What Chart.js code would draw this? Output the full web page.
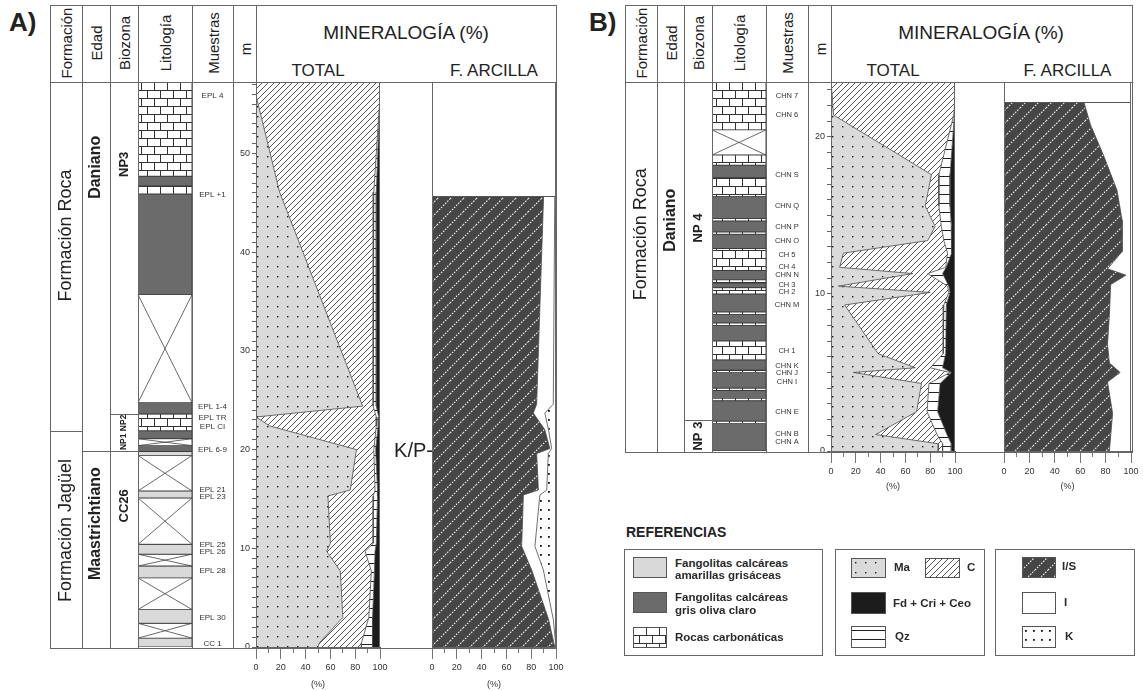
<!DOCTYPE html>
<html lang="es">
<head>
<meta charset="utf-8">
<title>Mineralogía total y de la fracción arcilla</title>
<script src="https://cdn.jsdelivr.net/npm/chart.js@4.4.1/dist/chart.umd.min.js"></script>
<style>
html, body { margin: 0; padding: 0; background: #fff; }
body { width: 1143px; height: 691px; position: relative; overflow: hidden;
       font-family: "Liberation Sans", Arial, Helvetica, sans-serif; color: #222; }
.l { position: absolute; background: #666; z-index: 5; }
.t { position: absolute; white-space: nowrap; line-height: 1; }
.c { position: absolute; white-space: nowrap; line-height: 1; transform: translate(-50%, -50%); }
.r { position: absolute; white-space: nowrap; line-height: 1; transform: translate(-50%, -50%) rotate(-90deg); }
.box { position: absolute; border: 1px solid #666; box-sizing: border-box; }
canvas { position: absolute; }
</style>
</head>
<body>
<script>
// ======================= DATA =======================

// --- Section A: lithology (m) ---
const litBaseA = [47.7, 46.7, 45.9, 35.7, 24.75, 23.6, 21.9, 21.1, 20.4, 19.8, 19.4, 15.8, 15.1, 10.4, 9.4, 8.2, 7.0, 3.8, 2.4, 0.9, 0];
const litTopA  = [57.24, 47.7, 46.7, 45.9, 35.7, 24.75, 23.6, 21.9, 21.1, 20.4, 19.8, 19.4, 15.8, 15.1, 10.4, 9.4, 8.2, 7.0, 3.8, 2.4, 0.9];
const litTypeA = ['carb', 'dark', 'carb', 'dark', 'cov', 'dark', 'carb', 'dark', 'cov', 'dark', 'light', 'cov', 'light', 'cov', 'light', 'cov', 'light', 'cov', 'light', 'cov', 'light'];

// --- Section A: samples ---
const sampleNamesA = ['EPL 4', 'EPL +1', 'EPL 1-4', 'EPL TR', 'EPL CI', 'EPL 6-9', 'EPL 21', 'EPL 23', 'EPL 25', 'EPL 26', 'EPL 28', 'EPL 30', 'CC 1'];
const sampleDepthA = [55.8, 45.8, 24.3, 23.2, 22.3, 20.0, 15.9, 15.2, 10.4, 9.6, 7.7, 3.0, 0.3];

// --- Section A: units ---
const formationA = ['Formación Roca', 'Formación Jagüel'];
const formationBaseA = [21.9, 0];
const formationLabelA = [41.7, 11.8];
const stageA = ['Daniano', 'Maastrichtiano'];
const stageBaseA = [19.85, 0];
const stageLabelA = [48.6, 12.5];
const zoneA = ['NP3', 'NP1 NP2', 'CC26'];
const zoneBaseA = [23.65, 19.85, 0];
const zoneLabelA = [48.9, 21.75, 14.3];

// --- Section A: total mineralogy (%) ---
const depthTotalA = [57.24, 55.9, 46.1, 24.4, 23.3, 22.4, 20.0, 15.9, 15.3, 10.5, 9.7, 7.7, 3.0, 0.4, 0];
const maTotalA    = [0, 0, 19, 86, 0, 11, 81, 76, 58, 60, 57, 68, 70, 51, 50];
const cTotalA     = [100, 100, 76, 8.5, 97, 86, 14, 20, 36.5, 34.5, 31, 25, 21, 34, 35];
const qzTotalA    = [0, 0, 2, 2.5, 2, 1.5, 1.5, 2, 3.5, 2.5, 8, 2.5, 3, 9, 9];
const fdTotalA    = [0, 0, 3, 3, 1, 1.5, 3.5, 2, 2, 3, 4, 4.5, 6, 6, 6];

// --- Section A: clay fraction (%) ---
const depthClayA = [45.7, 24.6, 23.7, 22.0, 20.1, 19.6, 15.9, 15.4, 10.2, 7.8, 2.8, 0];
const isClayA    = [90, 84.4, 81.7, 91, 95, 84.4, 85.8, 73.7, 72.3, 80.4, 94, 99];
const iClayA     = [9, 13.4, 9.3, 3, 1.5, 9.4, 6.7, 13.3, 10.7, 9.4, 3.8, 1];
const kClayA     = [1, 2.2, 9, 6, 3.5, 6.2, 7.5, 13, 17, 10.2, 2.2, 0];
const kpLabel = 'K/P';
const kpDepth = 19.85;

// --- Section B: lithology (m) ---
const litBaseB = [0, 1.75, 1.9, 3.2, 3.35, 3.85, 4.0, 5.0, 5.15, 5.8, 7.0, 8.0, 8.15, 8.7, 8.85, 10.0, 10.4, 10.7, 10.9, 11.5, 12.9, 13.8, 13.95, 14.65, 14.8, 16.2, 17.4, 18.2, 18.85, 20.45];
const litTopB  = [1.75, 1.9, 3.2, 3.35, 3.85, 4.0, 5.0, 5.15, 5.8, 7.0, 8.0, 8.15, 8.7, 8.85, 10.0, 10.4, 10.7, 10.9, 11.5, 12.9, 13.8, 13.95, 14.65, 14.8, 16.2, 17.4, 18.2, 18.85, 20.45, 23.5];
const litTypeB = ['dark', 'carb', 'dark', 'carb', 'dark', 'carb', 'dark', 'carb', 'dark', 'carb', 'dark', 'carb', 'dark', 'carb', 'dark', 'carb', 'dark', 'carb', 'dark', 'carb', 'dark', 'carb', 'dark', 'carb', 'dark', 'carb', 'dark', 'carb', 'cov', 'carb'];

// --- Section B: samples ---
const sampleNamesB = ['CHN 7', 'CHN 6', 'CHN S', 'CHN Q', 'CHN P', 'CHN O', 'CH 5', 'CH 4', 'CHN N', 'CH 3', 'CH 2', 'CHN M', 'CH 1', 'CHN K', 'CHN J', 'CHN I', 'CHN E', 'CHN B', 'CHN A'];
const sampleDepthB = [22.6, 21.4, 17.6, 15.6, 14.3, 13.4, 12.5, 11.7, 11.2, 10.6, 10.1, 9.3, 6.4, 5.4, 5.0, 4.4, 2.5, 1.1, 0.6];

// --- Section B: units ---
const formationB = ['Formación Roca'];
const formationBaseB = [0];
const formationLabelB = [13.8];
const stageB = ['Daniano'];
const stageBaseB = [0];
const stageLabelB = [14.7];
const zoneB = ['NP 4', 'NP 3'];
const zoneBaseB = [1.97, 0];
const zoneLabelB = [14.2, 0.95];

// --- Section B: total mineralogy (%) ---
const depthTotalB = [23.5, 22.6, 21.4, 17.6, 15.6, 14.3, 13.4, 12.6, 11.7, 11.3, 10.5, 10.1, 9.3, 6.2, 5.3, 5.0, 4.3, 2.5, 1.05, 0.46, 0];
const maTotalB    = [0, 1, 2, 81, 76, 84, 78, 10, 7, 66, 6, 80, 11, 38, 68, 18, 73, 69, 36, 86.5, 86.5];
const cTotalB     = [100, 99, 97, 6, 11, 5, 13, 84, 85.5, 12, 88, 15, 80, 52.5, 12, 78, 6, 8.5, 49.5, 3.5, 3.5];
const qzTotalB    = [0, 0, 0.5, 9, 9, 8, 6.5, 3, 0.5, 12, 1, 1, 2, 2, 10, 1, 9, 8.5, 8, 7, 7];
const fdTotalB    = [0, 0, 0.5, 4, 4, 3, 2.5, 3, 7, 10, 5, 4, 7, 7.5, 10, 3, 12, 14, 6.5, 3, 3];

// --- Section B: clay fraction (%) ---
const depthClayB = [22.2, 20.8, 18.7, 16.6, 14.7, 12.7, 11.6, 11.2, 10.6, 8.7, 6.8, 5.6, 5.0, 4.4, 2.4, 0];
const isClayB    = [63, 68, 79, 89, 93, 93, 81.5, 96, 84, 83, 81.5, 83, 91.5, 81.5, 85.5, 83];
const iClayB     = [37, 32, 21, 11, 7, 7, 18.5, 4, 16, 17, 18.5, 17, 8.5, 18.5, 14.5, 17];

// ======================= LAYOUT =======================
const FONT = '"Liberation Sans", Arial, Helvetica, sans-serif';
Chart.defaults.font.family = FONT;
Chart.defaults.color = '#333';

const panelA = { tag: 'A)', tagX: 9, top: 5, head: 82, zero: 647, bottom: 648,
  cols: [50, 82, 110, 138, 192, 233, 256, 556], total: [256, 380], clay: [432, 556], yMax: 57.24 };
const panelB = { tag: 'B)', tagX: 589, top: 5, head: 82, zero: 451, bottom: 452,
  cols: [625, 657, 684, 712, 766, 808, 831, 1132], total: [831, 955], clay: [1004, 1131], yMax: 23.5 };

// ======================= FILL PATTERNS =======================
function makeTile(w, h, paint) {
  const c = document.createElement('canvas');
  c.width = w; c.height = h;
  paint(c.getContext('2d'), w, h);
  return c;
}
const patternCtx = document.createElement('canvas').getContext('2d');
const pattern = tile => patternCtx.createPattern(tile, 'repeat');
function diagonal(g, w, h) {
  g.beginPath();
  g.moveTo(0, h); g.lineTo(w, 0);
  g.moveTo(-1, 1); g.lineTo(1, -1);
  g.moveTo(w - 1, h + 1); g.lineTo(w + 1, h - 1);
  g.stroke();
}
const fills = {
  ma: pattern(makeTile(10, 10, (g, w, h) => {
    g.fillStyle = '#dadada'; g.fillRect(0, 0, w, h);
    g.fillStyle = '#1a1a1a'; g.fillRect(4, 4, 1.4, 1.4);
  })),
  c: pattern(makeTile(6, 6, (g, w, h) => {
    g.fillStyle = '#fff'; g.fillRect(0, 0, w, h);
    g.strokeStyle = '#2a2a2a'; g.lineWidth = 0.8; diagonal(g, w, h);
  })),
  qz: pattern(makeTile(8, 9, (g, w, h) => {
    g.fillStyle = '#fff'; g.fillRect(0, 0, w, h);
    g.fillStyle = '#222'; g.fillRect(0, 4, w, 1);
  })),
  fd: '#1c1c1c',
  is: pattern(makeTile(13, 13, (g, w, h) => {
    g.fillStyle = '#464646'; g.fillRect(0, 0, w, h);
    g.strokeStyle = '#f2f2f2'; g.lineWidth = 1.1; g.setLineDash([1.6, 1.3]); diagonal(g, w, h);
  })),
  i: '#ffffff',
  k: pattern(makeTile(8, 9, (g, w, h) => {
    g.fillStyle = '#fff'; g.fillRect(0, 0, w, h);
    g.fillStyle = '#111'; g.fillRect(3, 4, 1.8, 1.8);
  })),
  carb: pattern(makeTile(26, 16, (g, w, h) => {
    g.fillStyle = '#fff'; g.fillRect(0, 0, w, h);
    g.strokeStyle = '#333'; g.lineWidth = 1;
    g.beginPath();
    g.moveTo(0, 0.5); g.lineTo(w, 0.5);
    g.moveTo(0, 8.5); g.lineTo(w, 8.5);
    g.moveTo(0.5, 0); g.lineTo(0.5, 8);
    g.moveTo(13.5, 0); g.lineTo(13.5, 8);
    g.moveTo(6.5, 8); g.lineTo(6.5, 16);
    g.moveTo(19.5, 8); g.lineTo(19.5, 16);
    g.stroke();
  })),
  dark: '#6b6b6b',
  light: '#d9d9d9',
  cov: '#ffffff'
};

// ======================= HTML FRAME & TEXT =======================
function el(cls, css, text) {
  const d = document.createElement('div');
  d.className = cls;
  Object.assign(d.style, css);
  if (text != null) d.textContent = text;
  document.body.appendChild(d);
  return d;
}
const hline = (x1, x2, y) => el('l', { left: x1 + 'px', top: y + 'px', width: (x2 - x1 + 1) + 'px', height: '1px' });
const vline = (x, y1, y2) => el('l', { left: x + 'px', top: y1 + 'px', width: '1px', height: (y2 - y1 + 1) + 'px' });

function drawFrame(p) {
  const L = p.cols[0], R = p.cols[p.cols.length - 1];
  hline(L, R, p.top); hline(L, R, p.head); hline(L, R, p.bottom);
  p.cols.forEach(x => vline(x, p.top, p.bottom));
  const heads = ['Formación', 'Edad', 'Biozona', 'Litología', 'Muestras', 'm'];
  heads.forEach((n, i) => {
    const cx = (p.cols[i] + p.cols[i + 1]) / 2;
    el('r', { left: cx + 'px', top: (n === 'm' ? 49 : 43) + 'px', fontSize: '15px' }, n);
  });
  el('c', { left: (p.total[0] + p.clay[1]) / 2 + 'px', top: '32px', fontSize: '19px' }, 'MINERALOGÍA (%)');
  el('c', { left: (p.total[0] + p.total[1]) / 2 + 'px', top: '70px', fontSize: '17px' }, 'TOTAL');
  el('c', { left: (p.clay[0] + p.clay[1]) / 2 + 'px', top: '70px', fontSize: '17px' }, 'F. ARCILLA');
  el('t', { left: p.tagX + 'px', top: '9px', fontSize: '26px', fontWeight: 'bold' }, p.tag);
}

// ======================= CHART HELPERS =======================
function makeCanvas(left, top, w, h) {
  const c = document.createElement('canvas');
  c.width = w; c.height = h;
  Object.assign(c.style, { left: left + 'px', top: top + 'px', width: w + 'px', height: h + 'px' });
  document.body.appendChild(c);
  return c;
}
const baseOptions = {
  responsive: false, animation: false, devicePixelRatio: 1, events: []
};

// crossed (covered) intervals of the lithology column
const coverPlugin = {
  id: 'cover',
  afterDatasetsDraw(chart) {
    const ctx = chart.ctx;
    ctx.save();
    ctx.strokeStyle = '#444'; ctx.lineWidth = 0.8;
    chart.data.datasets.forEach((ds, i) => {
      if (!ds.covered) return;
      const bar = chart.getDatasetMeta(i).data[0];
      const { x, y, base, width } = bar.getProps(['x', 'y', 'base', 'width'], true);
      const l = x - width / 2, r = x + width / 2;
      ctx.beginPath();
      ctx.moveTo(l, y); ctx.lineTo(r, base);
      ctx.moveTo(r, y); ctx.lineTo(l, base);
      ctx.stroke();
    });
    ctx.restore();
  }
};

// sample names in the "Muestras" column
function samplesPlugin(names, depths, size, offset) {
  return {
    id: 'samples',
    afterDraw(chart) {
      const { ctx, chartArea: ca, scales: { y } } = chart;
      ctx.save();
      ctx.font = size + 'px ' + FONT;
      ctx.fillStyle = '#333';
      ctx.textAlign = 'center'; ctx.textBaseline = 'middle';
      names.forEach((n, i) => ctx.fillText(n, ca.right + offset, y.getPixelForValue(depths[i])));
      ctx.restore();
    }
  };
}

// formation / stage / biozone columns left of the lithology
function unitsPlugin(columns, yMax) {
  return {
    id: 'units',
    afterDraw(chart) {
      const { ctx, chartArea: ca, scales: { y } } = chart;
      ctx.save();
      columns.forEach(col => {
        const x0 = ca.left + col.x0, x1 = ca.left + col.x1, cx = (x0 + x1) / 2;
        col.names.forEach((name, i) => {
          const base = col.bases[i];
          const top = i === 0 ? yMax : col.bases[i - 1];
          if (base > 0) {
            const py = Math.round(y.getPixelForValue(base)) + 0.5;
            ctx.strokeStyle = '#666'; ctx.lineWidth = 1;
            ctx.beginPath(); ctx.moveTo(x0, py); ctx.lineTo(x1, py); ctx.stroke();
          }
          const room = Math.abs(y.getPixelForValue(top) - y.getPixelForValue(base)) - 2;
          let size = col.size;
          ctx.font = col.weight + ' ' + size + 'px ' + FONT;
          while (ctx.measureText(name).width > room && size > 6) {
            size -= 0.5;
            ctx.font = col.weight + ' ' + size + 'px ' + FONT;
          }
          ctx.save();
          ctx.translate(cx, y.getPixelForValue(col.labelAt[i]));
          ctx.rotate(-Math.PI / 2);
          ctx.fillStyle = '#222';
          ctx.textAlign = 'center'; ctx.textBaseline = 'middle';
          ctx.fillText(name, 0, 0);
          ctx.restore();
        });
      });
      ctx.restore();
    }
  };
}

// outline of the plotting area
const plotFrame = {
  id: 'plotFrame',
  afterDraw(chart) {
    const { ctx, chartArea: ca } = chart;
    ctx.save();
    ctx.strokeStyle = '#666'; ctx.lineWidth = 1;
    ctx.strokeRect(Math.round(ca.left) + 0.5, Math.round(ca.top) + 0.5,
                   Math.round(ca.width) - 1, Math.round(ca.height));
    ctx.restore();
  }
};

// upper limit of the analysed interval
function topEdgePlugin(depth) {
  return {
    id: 'topEdge',
    afterDatasetsDraw(chart) {
      const { ctx, chartArea: ca, scales: { y } } = chart;
      const py = Math.round(y.getPixelForValue(depth)) + 0.5;
      ctx.save();
      ctx.strokeStyle = '#555'; ctx.lineWidth = 1;
      ctx.beginPath(); ctx.moveTo(ca.left, py); ctx.lineTo(ca.right, py); ctx.stroke();
      ctx.restore();
    }
  };
}

// boundary marker written on the left of the clay profile
function boundaryLabelPlugin(text, depth) {
  return {
    id: 'boundaryLabel',
    afterDraw(chart) {
      const { ctx, chartArea: ca, scales: { y } } = chart;
      ctx.save();
      ctx.font = '20px ' + FONT;
      ctx.fillStyle = '#222';
      ctx.textAlign = 'right'; ctx.textBaseline = 'middle';
      ctx.fillText(text + '-', ca.left + 1, y.getPixelForValue(depth));
      ctx.restore();
    }
  };
}

function lithologyChart(p, bases, tops, types, sNames, sDepths, sSize, columns) {
  const left = p.cols[0];
  const width = p.cols[5] - p.cols[0];
  const cv = makeCanvas(left, p.head, width, p.zero - p.head + 8);
  const datasets = bases.map((b, i) => ({
    label: types[i],
    data: [[b, tops[i]]],
    backgroundColor: fills[types[i]],
    borderColor: '#3c3c3c', borderWidth: 0.8, borderSkipped: false,
    grouped: false, barPercentage: 1, categoryPercentage: 1,
    covered: types[i] === 'cov'
  }));
  return new Chart(cv, {
    type: 'bar',
    data: { labels: ['Litología'], datasets },
    options: {
      ...baseOptions,
      layout: { padding: { left: p.cols[3] - p.cols[0], right: p.cols[5] - p.cols[4], top: 0, bottom: 8 } },
      scales: {
        x: { display: false },
        y: { display: false, min: 0, max: p.yMax }
      },
      plugins: { legend: { display: false }, tooltip: { enabled: false } }
    },
    plugins: [coverPlugin, unitsPlugin(columns, p.yMax),
              samplesPlugin(sNames, sDepths, sSize, (p.cols[5] - p.cols[4]) / 2)]
  });
}

function profileChart(p, range, depths, series, withAxis, titlePad, extra) {
  const yW = withAxis ? range[0] - p.cols[5] : 0;
  const padL = withAxis ? 0 : (extra.padLeft || 10);
  const padR = 12;
  const plotW = range[1] - range[0];
  const chartH = p.zero - p.head;
  const cv = makeCanvas(range[0] - yW - padL, p.head, yW + padL + plotW + padR, chartH + 44);
  const datasets = series.map((s, i) => ({
    label: s.label,
    data: depths.map((d, k) => ({ x: s.values[k], y: d })),
    backgroundColor: s.fill,
    borderColor: '#4a4a4a', borderWidth: 0.8,
    pointRadius: 0, pointHoverRadius: 0, tension: 0,
    fill: i === 0 ? 'origin' : '-1'
  }));
  const yScale = withAxis ? {
    type: 'linear', min: 0, max: p.yMax, position: 'left',
    ticks: { stepSize: 1, autoSkip: false, includeBounds: false, padding: 2,
             font: { size: 9 }, color: '#333',
             callback: v => (v % 10 === 0 ? String(v) : '') },
    grid: { drawOnChartArea: false, tickLength: 4, color: '#666' },
    border: { color: '#555' },
    afterFit(s) { s.width = yW; s.paddingTop = 0; s.paddingBottom = 0; }
  } : { type: 'linear', display: false, min: 0, max: p.yMax };
  return new Chart(cv, {
    type: 'line',
    data: { datasets },
    options: {
      ...baseOptions,
      indexAxis: 'y',
      layout: { padding: { left: padL, right: padR, top: 0, bottom: 0 } },
      scales: {
        x: {
          type: 'linear', stacked: true, min: 0, max: 100, position: 'bottom', weight: 1,
          ticks: { stepSize: 20, padding: 3, font: { size: 9 }, color: '#333', maxRotation: 0 },
          grid: { drawOnChartArea: false, tickLength: 12, color: '#777' },
          border: { color: '#555' },
          title: { display: true, text: '(%)', font: { size: 9 }, color: '#333', padding: { top: 0, bottom: titlePad } },
          afterFit(s) { s.height = 44; s.paddingLeft = 0; s.paddingRight = 0; }
        },
        xMinor: {
          type: 'linear', min: 0, max: 100, position: 'bottom', weight: 0,
          ticks: { stepSize: 10, display: false },
          grid: { drawOnChartArea: false, tickLength: 6, color: '#777' },
          border: { display: false },
          afterFit(s) { s.height = 0; s.paddingLeft = 0; s.paddingRight = 0; }
        },
        y: yScale
      },
      plugins: { legend: { display: false }, tooltip: { enabled: false } }
    },
    plugins: [plotFrame].concat(extra.plugins || [])
  });
}

// ======================= BUILD =======================
drawFrame(panelA);
drawFrame(panelB);

const colsA = [
  { x0: panelA.cols[0] - panelA.cols[3], x1: panelA.cols[1] - panelA.cols[3], names: formationA, bases: formationBaseA, labelAt: formationLabelA, size: 18, weight: 'normal' },
  { x0: panelA.cols[1] - panelA.cols[3], x1: panelA.cols[2] - panelA.cols[3], names: stageA, bases: stageBaseA, labelAt: stageLabelA, size: 16, weight: 'bold' },
  { x0: panelA.cols[2] - panelA.cols[3], x1: 0, names: zoneA, bases: zoneBaseA, labelAt: zoneLabelA, size: 13, weight: 'bold' }
];
const colsB = [
  { x0: panelB.cols[0] - panelB.cols[3], x1: panelB.cols[1] - panelB.cols[3], names: formationB, bases: formationBaseB, labelAt: formationLabelB, size: 18, weight: 'normal' },
  { x0: panelB.cols[1] - panelB.cols[3], x1: panelB.cols[2] - panelB.cols[3], names: stageB, bases: stageBaseB, labelAt: stageLabelB, size: 16, weight: 'bold' },
  { x0: panelB.cols[2] - panelB.cols[3], x1: 0, names: zoneB, bases: zoneBaseB, labelAt: zoneLabelB, size: 13, weight: 'bold' }
];

lithologyChart(panelA, litBaseA, litTopA, litTypeA, sampleNamesA, sampleDepthA, 8, colsA);
lithologyChart(panelB, litBaseB, litTopB, litTypeB, sampleNamesB, sampleDepthB, 7.5, colsB);

profileChart(panelA, panelA.total, depthTotalA, [
  { label: 'Ma', values: maTotalA, fill: fills.ma },
  { label: 'C', values: cTotalA, fill: fills.c },
  { label: 'Qz', values: qzTotalA, fill: fills.qz },
  { label: 'Fd + Cri + Ceo', values: fdTotalA, fill: fills.fd }
], true, 1.5, {});

profileChart(panelA, panelA.clay, depthClayA, [
  { label: 'I/S', values: isClayA, fill: fills.is },
  { label: 'I', values: iClayA, fill: fills.i },
  { label: 'K', values: kClayA, fill: fills.k }
], false, 1.5, { padLeft: 47, plugins: [topEdgePlugin(depthClayA[0]), boundaryLabelPlugin(kpLabel, kpDepth)] });

profileChart(panelB, panelB.total, depthTotalB, [
  { label: 'Ma', values: maTotalB, fill: fills.ma },
  { label: 'C', values: cTotalB, fill: fills.c },
  { label: 'Qz', values: qzTotalB, fill: fills.qz },
  { label: 'Fd + Cri + Ceo', values: fdTotalB, fill: fills.fd }
], true, 3, {});

profileChart(panelB, panelB.clay, depthClayB, [
  { label: 'I/S', values: isClayB, fill: fills.is },
  { label: 'I', values: iClayB, fill: fills.i }
], false, 3, { padLeft: 10, plugins: [topEdgePlugin(depthClayB[0])] });

// ======================= REFERENCIAS =======================
function swatch(x, y, w, h, fill) {
  const c = makeCanvas(x, y, w, h);
  const g = c.getContext('2d');
  g.fillStyle = fill; g.fillRect(0, 0, w, h);
  g.strokeStyle = '#555'; g.lineWidth = 1; g.strokeRect(0.5, 0.5, w - 1, h - 1);
}
el('t', { left: '626px', top: '525px', fontSize: '14px', fontWeight: 'bold' }, 'REFERENCIAS');
el('box', { left: '624px', top: '549px', width: '199px', height: '107px' });
el('box', { left: '835px', top: '549px', width: '150px', height: '107px' });
el('box', { left: '995px', top: '549px', width: '140px', height: '107px' });

const legendText = (x, cy, text) => el('t', { left: x + 'px', top: (cy - 6) + 'px', fontSize: '11.5px', fontWeight: 'bold', color: '#2a2a2a' }, text);

swatch(633, 557, 34, 21, fills.light);
legendText(675, 564, 'Fangolitas calcáreas');
legendText(675, 576, 'amarillas grisáceas');
swatch(633, 592, 34, 21, fills.dark);
legendText(675, 598, 'Fangolitas calcáreas');
legendText(675, 611, 'gris oliva claro');
swatch(633, 627, 34, 21, fills.carb);
legendText(675, 638, 'Rocas carbonáticas');

swatch(851, 558, 35, 20, fills.ma);
legendText(894, 568, 'Ma');
swatch(925, 558, 35, 20, fills.c);
legendText(967, 568, 'C');
swatch(851, 592, 35, 22, fills.fd);
legendText(893, 604, 'Fd + Cri + Ceo');
swatch(851, 626, 35, 22, fills.qz);
legendText(895, 637, 'Qz');

swatch(1022, 557, 34, 21, fills.is);
legendText(1062, 567, 'I/S');
swatch(1022, 592, 34, 22, fills.i);
legendText(1064, 603, 'I');
swatch(1022, 626, 34, 22, fills.k);
legendText(1065, 637, 'K');
</script>
</body>
</html>
